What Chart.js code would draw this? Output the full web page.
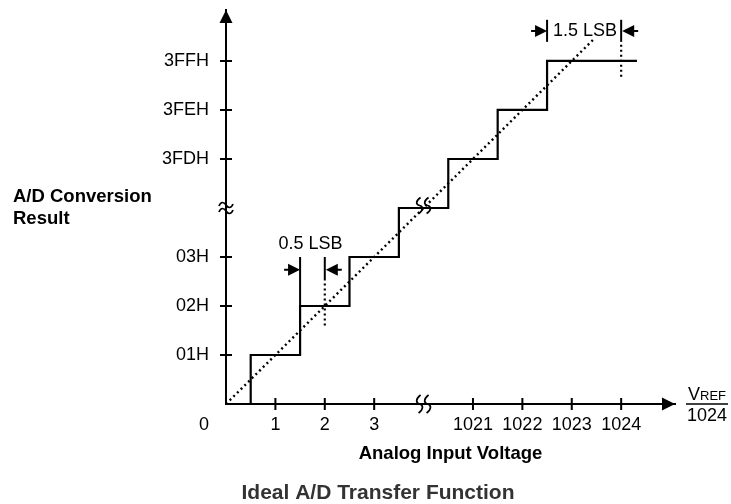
<!DOCTYPE html>
<html>
<head>
<meta charset="utf-8">
<title>Ideal A/D Transfer Function</title>
<script src="https://cdn.jsdelivr.net/npm/chart.js@4.4.1/dist/chart.umd.min.js"></script>
<style>
  html, body { margin: 0; padding: 0; background: #fff; }
  #wrap { width: 731px; height: 504px; }
</style>
</head>
<body>
<div id="wrap"><canvas id="chart" width="731" height="504"></canvas></div>
<script>
// tick positions on the broken axes, and what is printed there
const xTickValues = [1, 2, 3, 5, 6, 7, 8];
const xTickLabels = ['1', '2', '3', '1021', '1022', '1023', '1024'];
const yTickValues = [1, 2, 3, 5, 6, 7];
const yTickLabels = ['01H', '02H', '03H', '3FDH', '3FEH', '3FFH'];

// staircase: input voltage (LSB) where each output code starts
const stepVoltage = [0, 0.5, 1.5, 2.5, 3.5, 4.5, 5.5, 6.5, 8.32];
const stepCode = [0, 1, 2, 3, 4, 5, 6, 7, 7];

// ideal transfer line (dotted)
const idealVoltage = [0, 7.45];
const idealCode = [0, 7.45];

// where both axes are broken
const breakAt = 4;

// 0.5 LSB marker: span edges, top of marker lines, arrow height, dotted part
const halfLsbEdges = [1.5, 2];
const halfLsbTop = 3.0;
const halfLsbArrow = 2.74;
const halfLsbSolidFrom = 2.52;
const halfLsbDotFrom = 1.6;

// 1.5 LSB marker
const oneHalfLsbEdges = [6.5, 8];
const oneHalfLsbTop = 7.84;
const oneHalfLsbArrow = 7.61;
const oneHalfLsbSolidFrom = 7.39;
const oneHalfLsbDotFrom = 6.68;

const FONT = '"Liberation Sans", Arial, Helvetica, sans-serif';
Chart.defaults.font.family = FONT;
Chart.defaults.color = '#000';

function pts(xs, ys) {
  return xs.map((x, i) => ({ x: x, y: ys[i] }));
}

function seg(x, y0, y1, dotted) {
  return {
    data: [{ x: x, y: y0 }, { x: x, y: y1 }],
    borderColor: '#000',
    borderWidth: dotted ? 2.2 : 2,
    borderDash: dotted ? [2, 3] : [],
    pointRadius: 0
  };
}

// arrow heads, tick marks, axis breaks and free text
const decor = {
  id: 'decor',
  afterDatasetsDraw(chart) {
    const ctx = chart.ctx;
    const xs = chart.scales.x;
    const ys = chart.scales.y;
    const px = v => xs.getPixelForValue(v);
    const py = v => ys.getPixelForValue(v);
    const x0 = px(0), y0 = py(0);

    ctx.save();
    ctx.fillStyle = '#000';
    ctx.strokeStyle = '#000';

    const tri = (x, y, dir, L, H) => {
      ctx.beginPath();
      ctx.moveTo(x, y);
      if (dir === 'up') { ctx.lineTo(x - H, y + L); ctx.lineTo(x + H, y + L); }
      if (dir === 'right') { ctx.lineTo(x - L, y - H); ctx.lineTo(x - L, y + H); }
      if (dir === 'left') { ctx.lineTo(x + L, y - H); ctx.lineTo(x + L, y + H); }
      ctx.closePath();
      ctx.fill();
    };

    // axis arrows
    tri(x0, ys.top, 'up', 13, 6.5);
    tri(xs.right, y0, 'right', 13, 6.5);

    // tick marks crossing the axes
    ctx.lineWidth = 2;
    ctx.beginPath();
    yTickValues.forEach(v => { ctx.moveTo(x0 - 6, py(v)); ctx.lineTo(x0 + 6, py(v)); });
    xTickValues.forEach(v => { ctx.moveTo(px(v), y0 - 6); ctx.lineTo(px(v), y0 + 6); });
    ctx.stroke();

    // axis breaks
    ctx.lineWidth = 1.7;
    const tilde = (cx, cy) => {
      ctx.moveTo(cx - 7, cy + 1);
      ctx.bezierCurveTo(cx - 5, cy - 4, cx - 2, cy - 3, cx, cy);
      ctx.bezierCurveTo(cx + 2, cy + 3, cx + 5, cy + 4, cx + 7, cy - 1);
    };
    const ess = (cx, cy, h) => {
      ctx.moveTo(cx + 1, cy - h);
      ctx.bezierCurveTo(cx - 4, cy - h * 0.6, cx - 4, cy - h * 0.1, cx, cy);
      ctx.bezierCurveTo(cx + 4, cy + h * 0.1, cx + 4, cy + h * 0.6, cx - 1, cy + h);
    };
    ctx.beginPath();
    tilde(x0, py(breakAt) - 3);
    tilde(x0, py(breakAt) + 3);
    ess(px(breakAt) - 4, y0, 9);
    ess(px(breakAt) + 4, y0, 9);
    ess(px(breakAt) - 4, py(breakAt + 0.05), 8);
    ess(px(breakAt) + 4, py(breakAt + 0.05), 8);
    ctx.stroke();

    // LSB marker arrows (with short tails)
    const arrowPair = (edges, yv) => {
      const yy = py(yv);
      const a = px(edges[0]), b = px(edges[1]) + 1;
      tri(a, yy, 'right', 12, 6);
      tri(b, yy, 'left', 12, 6);
      ctx.lineWidth = 2;
      ctx.beginPath();
      ctx.moveTo(a - 16, yy); ctx.lineTo(a - 10, yy);
      ctx.moveTo(b + 10, yy); ctx.lineTo(b + 16, yy);
      ctx.stroke();
    };
    arrowPair(halfLsbEdges, halfLsbArrow);
    arrowPair(oneHalfLsbEdges, oneHalfLsbArrow);

    // text
    ctx.textBaseline = 'middle';
    ctx.textAlign = 'center';
    ctx.font = '18px ' + FONT;
    ctx.fillText('0.5 LSB', px(1.71), py(3.27));
    ctx.fillText('1.5 LSB', px(7.27), py(oneHalfLsbArrow));
    ctx.fillText('0', x0 - 22, y0 + 21);

    // V_REF / 1024 unit next to the x arrow
    const fx = xs.right + 32;
    ctx.textAlign = 'left';
    ctx.textBaseline = 'alphabetic';
    ctx.font = '18px ' + FONT;
    const vw = ctx.measureText('V').width;
    ctx.font = '13px ' + FONT;
    const rw = ctx.measureText('REF').width;
    const sx = fx - (vw + rw) / 2;
    ctx.font = '18px ' + FONT;
    ctx.fillText('V', sx, y0 - 4);
    ctx.font = '13px ' + FONT;
    ctx.fillText('REF', sx + vw, y0 - 4);
    ctx.lineWidth = 1.5;
    ctx.beginPath();
    ctx.moveTo(fx - 21, y0); ctx.lineTo(fx + 21, y0);
    ctx.stroke();
    ctx.textAlign = 'center';
    ctx.textBaseline = 'middle';
    ctx.font = '18px ' + FONT;
    ctx.fillText('1024', fx, y0 + 12);

    // y axis caption (horizontal) and figure title
    ctx.textAlign = 'left';
    ctx.font = 'bold 18.5px ' + FONT;
    ctx.fillText('A/D Conversion', 13, 197);
    ctx.fillText('Result', 13, 219);
    ctx.textAlign = 'center';
    ctx.fillStyle = '#333';
    ctx.font = 'bold 21px ' + FONT;
    ctx.fillText('Ideal A/D Transfer Function', 378, 493);
    ctx.restore();
  }
};

new Chart(document.getElementById('chart'), {
  type: 'line',
  data: {
    datasets: [
      {
        data: pts(stepVoltage, stepCode),
        stepped: true,
        borderColor: '#000',
        borderWidth: 2.2,
        pointRadius: 0
      },
      {
        data: pts(idealVoltage, idealCode),
        borderColor: '#000',
        borderWidth: 2.4,
        borderDash: [2, 3.2],
        pointRadius: 0
      },
      seg(halfLsbEdges[0], 2, halfLsbTop, false),
      seg(halfLsbEdges[1], halfLsbSolidFrom, halfLsbTop, false),
      seg(halfLsbEdges[1], halfLsbDotFrom, halfLsbSolidFrom, true),
      seg(oneHalfLsbEdges[0], oneHalfLsbSolidFrom, oneHalfLsbTop, false),
      seg(oneHalfLsbEdges[1], oneHalfLsbSolidFrom, oneHalfLsbTop, false),
      seg(oneHalfLsbEdges[1], oneHalfLsbDotFrom, oneHalfLsbSolidFrom, true)
    ]
  },
  options: {
    responsive: false,
    animation: false,
    devicePixelRatio: 1,
    layout: { padding: { top: 10, right: 56, bottom: 0, left: 0 }, autoPadding: false },
    plugins: { legend: { display: false }, tooltip: { enabled: false } },
    scales: {
      x: {
        type: 'linear',
        min: 0,
        max: 9.09,
        grid: { display: false, drawTicks: false },
        border: { display: true, color: '#000', width: 2 },
        ticks: {
          padding: 10,
          autoSkip: false,
          maxRotation: 0,
          color: '#000',
          font: { size: 18 },
          callback: v => {
            const i = xTickValues.indexOf(v);
            return i >= 0 ? xTickLabels[i] : '';
          }
        },
        afterBuildTicks: s => { s.ticks = xTickValues.map(v => ({ value: v })); },
        afterFit: s => {
          s.height = 100;
          s.paddingLeft = s.paddingRight = s.paddingTop = s.paddingBottom = 0;
        },
        title: {
          display: true,
          text: 'Analog Input Voltage',
          color: '#000',
          font: { size: 18.5, weight: 'bold' },
          padding: { top: 0, bottom: 39 }
        }
      },
      y: {
        type: 'linear',
        min: 0,
        max: 8.04,
        grid: { display: false, drawTicks: false },
        border: { display: true, color: '#000', width: 2 },
        ticks: {
          padding: 17,
          autoSkip: false,
          color: '#000',
          font: { size: 18 },
          callback: v => {
            const i = yTickValues.indexOf(v);
            return i >= 0 ? yTickLabels[i] : '';
          }
        },
        afterBuildTicks: s => { s.ticks = yTickValues.map(v => ({ value: v })); },
        afterFit: s => {
          s.width = 226;
          s.paddingLeft = s.paddingRight = s.paddingTop = s.paddingBottom = 0;
        }
      }
    }
  },
  plugins: [decor]
});
</script>
</body>
</html>
